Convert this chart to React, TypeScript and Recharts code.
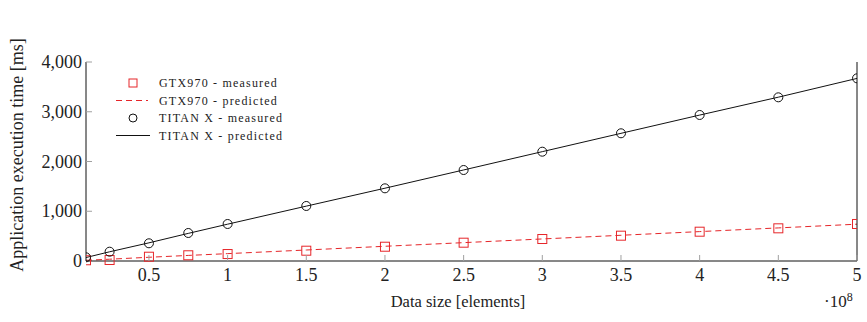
import React from 'react';
import { ComposedChart, Line, XAxis, YAxis } from 'recharts';

// Data size in units of 10^8 elements
const dataSizes = [0.1, 0.25, 0.5, 0.75, 1, 1.5, 2, 2.5, 3, 3.5, 4, 4.5, 5];
const gtxMeasured = [15, 20, 86, 115, 140, 207, 287, 368, 442, 509, 589, 657, 744];
const gtxPredicted = [14, 36, 75, 112, 148, 221, 296, 369, 443, 517, 591, 665, 740];
const titanMeasured = [74, 187, 356, 563, 744, 1106, 1461, 1829, 2197, 2567, 2935, 3290, 3672];
const titanPredicted = [70, 185, 365, 555, 740, 1103, 1463, 1830, 2198, 2566, 2933, 3293, 3670];

const xTicks = [0.5, 1, 1.5, 2, 2.5, 3, 3.5, 4, 4.5, 5];
const yTicks = [0, 1000, 2000, 3000, 4000];

const legendLabels = ['GTX970 - measured', 'GTX970 - predicted', 'TITAN X - measured', 'TITAN X - predicted'];

const data = dataSizes.map((x, i) => ({
  x,
  gtxMeasured: gtxMeasured[i],
  gtxPredicted: gtxPredicted[i],
  titanMeasured: titanMeasured[i],
  titanPredicted: titanPredicted[i],
}));

const RED = '#e6262a';
const TICK = '#a0a0a0';
const FONT = '"Liberation Serif", "Times New Roman", serif';

const fmt = (v: number) => v.toLocaleString('en-US');

const BottomTick = (p: any) => (
  <g>
    <line x1={p.x} x2={p.x} y1={p.y} y2={p.y - 6} stroke={TICK} />
    <text x={p.x} y={p.y + 20} textAnchor="middle" fontFamily={FONT} fontSize={18} fill="#222">
      {p.payload.value}
    </text>
  </g>
);
const TopTick = (p: any) => (
  <line x1={p.x} x2={p.x} y1={p.y} y2={p.y + 6} stroke={TICK} />
);
const LeftTick = (p: any) => (
  <g>
    {p.payload.value !== 0 && <line x1={p.x} x2={p.x + 6} y1={p.y} y2={p.y} stroke={TICK} />}
    <text x={p.x - 4} y={p.y + 6} textAnchor="end" fontFamily={FONT} fontSize={18} fill="#222">
      {fmt(p.payload.value)}
    </text>
  </g>
);
const RightTick = (p: any) =>
  p.payload.value === 0 ? <g /> : <line x1={p.x} x2={p.x - 6} y1={p.y} y2={p.y} stroke={TICK} />;

const SquareDot = (p: any) =>
  p.cx == null ? <g /> : (
    <rect x={p.cx - 4.5} y={p.cy - 4.5} width={9} height={9} fill="none" stroke={RED} strokeWidth={1} />
  );
const CircleDot = (p: any) =>
  p.cx == null ? <g /> : <circle cx={p.cx} cy={p.cy} r={4.5} fill="none" stroke="#111" strokeWidth={1} />;

const LegendBox = () => {
  const rowY = [83, 100.5, 118, 135.5];
  return (
    <svg width={200} height={80} style={{ position: 'absolute', left: 110, top: 70 }}>
      <g transform="translate(-110,-70)">
        <rect x={129} y={rowY[0] - 4} width={8} height={8} fill="none" stroke={RED} />
        <line x1={116} x2={148} y1={rowY[1]} y2={rowY[1]} stroke={RED} strokeDasharray="6 4" />
        <circle cx={133} cy={rowY[2]} r={4} fill="none" stroke="#111" />
        <line x1={116} x2={150} y1={rowY[3]} y2={rowY[3]} stroke="#111" />
        {legendLabels.map((l, i) => (
          <text key={l} x={159} y={rowY[i] + 4} fontFamily={FONT} fontSize={12} letterSpacing={1.2} fill="#222">
            {l}
          </text>
        ))}
      </g>
    </svg>
  );
};

export default function App() {
  return (
    <div style={{ position: 'relative', width: 867, height: 322, background: '#fff' }}>
      <style>{`body{margin:0;}`}</style>
      <ComposedChart width={867} height={322} data={data} margin={{ top: 62, right: 0, bottom: 0, left: 0 }}>
        <XAxis
          xAxisId="bottom"
          dataKey="x"
          type="number"
          domain={[0.1, 5]}
          allowDataOverflow
          ticks={xTicks}
          tickSize={0}
          tickMargin={0}
          tickLine={false}
          tick={<BottomTick />}
          axisLine={{ stroke: '#111' }}
          height={61}
          label={{
            content: () => (
              <text x={458} y={307} textAnchor="middle" fontFamily={FONT} fontSize={16.5} fill="#222">
                Data size [elements]
              </text>
            ),
          }}
        />
        <XAxis
          xAxisId="top"
          dataKey="x"
          type="number"
          orientation="top"
          domain={[0.1, 5]}
          allowDataOverflow
          ticks={xTicks}
          tickSize={0}
          tickMargin={0}
          tickLine={false}
          tick={<TopTick />}
          axisLine={{ stroke: '#111' }}
          height={0}
        />
        <YAxis
          yAxisId="left"
          type="number"
          domain={[0, 4000]}
          ticks={yTicks}
          tickSize={0}
          tickMargin={0}
          tickLine={false}
          tick={<LeftTick />}
          axisLine={{ stroke: '#111' }}
          width={86}
          label={{
            content: () => (
              <text
                x={17}
                y={155}
                transform="rotate(-90 17 155)"
                textAnchor="middle"
                dominantBaseline="central"
                fontFamily={FONT}
                fontSize={18}
                fill="#222"
              >
                Application execution time [ms]
              </text>
            ),
          }}
        />
        <YAxis
          yAxisId="right"
          orientation="right"
          type="number"
          domain={[0, 4000]}
          ticks={yTicks}
          tickSize={0}
          tickMargin={0}
          tickLine={false}
          tick={<RightTick />}
          axisLine={{ stroke: '#111' }}
          width={10}
        />
        <Line
          xAxisId="bottom"
          yAxisId="left"
          dataKey="gtxPredicted"
          stroke={RED}
          strokeWidth={1}
          strokeDasharray="6 4"
          dot={false}
          isAnimationActive={false}
        />
        <Line
          xAxisId="bottom"
          yAxisId="left"
          dataKey="titanPredicted"
          stroke="#111"
          strokeWidth={1}
          dot={false}
          isAnimationActive={false}
        />
        <Line
          xAxisId="bottom"
          yAxisId="left"
          dataKey="gtxMeasured"
          stroke="none"
          dot={<SquareDot />}
          isAnimationActive={false}
        />
        <Line
          xAxisId="bottom"
          yAxisId="left"
          dataKey="titanMeasured"
          stroke="none"
          dot={<CircleDot />}
          isAnimationActive={false}
        />
      </ComposedChart>
      <LegendBox />
      <div
        style={{
          position: 'absolute',
          left: 824,
          top: 294,
          fontFamily: FONT,
          fontSize: 17,
          color: '#222',
          lineHeight: '16px',
        }}
      >
        ·10<sup style={{ fontSize: 12, verticalAlign: 'top', position: 'relative', top: -5 }}>8</sup>
      </div>
    </div>
  );
}
